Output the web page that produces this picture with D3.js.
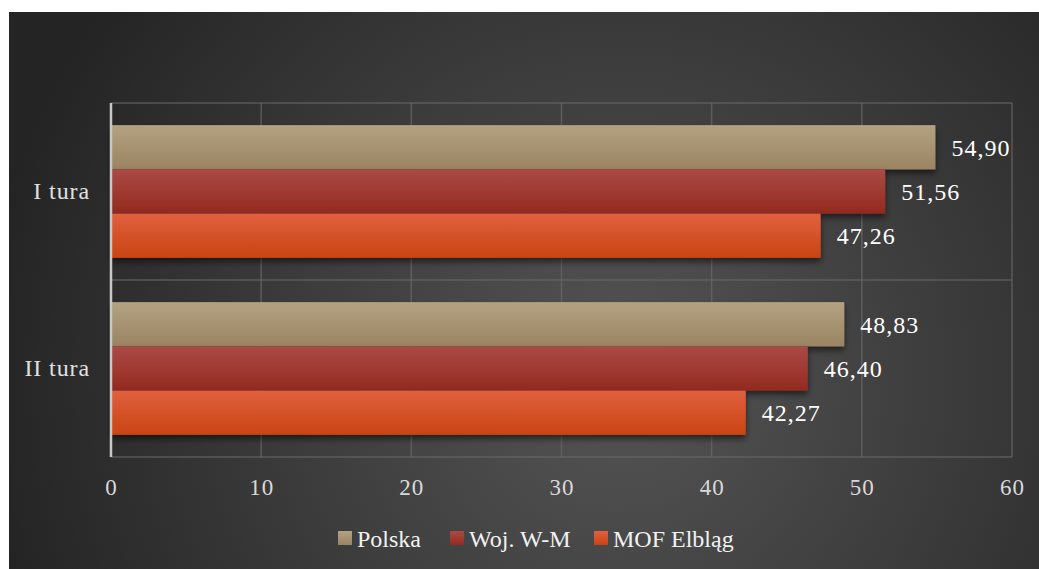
<!DOCTYPE html>
<html><head><meta charset="utf-8">
<script src="https://cdn.jsdelivr.net/npm/d3@7"></script>
<style>
html,body{margin:0;padding:0;background:#fff;}
svg{display:block;}
</style></head>
<body>
<svg id="chart" width="1039" height="569"></svg>
<script>
const categories = ["I tura", "II tura"];
const seriesNames = ["Polska", "Woj. W-M", "MOF Elbląg"];
const polska = [54.90, 48.83];
const wojWM = [51.56, 46.40];
const mofElblag = [47.26, 42.27];
const xTicks = [0, 10, 20, 30, 40, 50, 60];

const seriesValues = [polska, wojWM, mofElblag];
const colors = [["#b3a281","#9a8462"],["#ab4a45","#922a1f"],["#e1603f","#c94413"]];
const fontFam = "'Liberation Serif', serif";

const svg = d3.select("#chart");
const W = 1039, H = 569;
const defs = svg.append("defs");
const rg = defs.append("radialGradient").attr("id","bg")
  .attr("gradientUnits","userSpaceOnUse").attr("cx",620).attr("cy",380).attr("r",640);
rg.append("stop").attr("offset","0%").attr("stop-color","#555555");
rg.append("stop").attr("offset","100%").attr("stop-color","#242424");
colors.forEach((c,i)=>{
  const lg = defs.append("linearGradient").attr("id","g"+i).attr("x1",0).attr("y1",0).attr("x2",0).attr("y2",1);
  lg.append("stop").attr("offset","0%").attr("stop-color",c[0]);
  lg.append("stop").attr("offset","100%").attr("stop-color",c[1]);
});
const f = defs.append("filter").attr("id","sh").attr("x","-5%").attr("y","-20%").attr("width","110%").attr("height","150%");
f.append("feDropShadow").attr("dx",0).attr("dy",4).attr("stdDeviation",3).attr("flood-color","#000").attr("flood-opacity",0.55);

svg.append("rect").attr("x",9).attr("y",12).attr("width",W-9).attr("height",H-12).attr("fill","url(#bg)");

const plot = {left:111, right:1012, top:103, bottom:457};
const x = d3.scaleLinear().domain([0,60]).range([plot.left, plot.right]);
const y = d3.scaleBand().domain(categories).range([plot.top, plot.bottom]).paddingInner(0.25).paddingOuter(0.125);
const ySub = d3.scaleBand().domain(seriesNames).range([0, y.bandwidth()]);

// gridlines vertical
const g = svg.append("g");
g.selectAll("line.vg").data(xTicks.slice(1)).join("line")
  .attr("x1",d=>x(d)).attr("x2",d=>x(d)).attr("y1",plot.top).attr("y2",plot.bottom)
  .attr("stroke","#6a6a6a").attr("stroke-opacity",0.7).attr("stroke-width",1.5);
// horizontal gridlines at category boundaries
g.selectAll("line.hg").data(d3.range(categories.length+1)).join("line")
  .attr("x1",plot.left).attr("x2",plot.right)
  .attr("y1",i=>plot.top + i*(plot.bottom-plot.top)/categories.length)
  .attr("y2",i=>plot.top + i*(plot.bottom-plot.top)/categories.length)
  .attr("stroke","#6a6a6a").attr("stroke-opacity",0.7).attr("stroke-width",1.5);

// bars
const bars = svg.append("g");
categories.forEach((cat,ci)=>{
  seriesNames.forEach((s,si)=>{
    const v = seriesValues[si][ci];
    bars.append("rect")
      .attr("x",x(0)).attr("y",y(cat)+ySub(s))
      .attr("width",x(v)-x(0)).attr("height",ySub.bandwidth())
      .attr("fill","url(#g"+si+")").attr("filter","url(#sh)");
  });
});
categories.forEach((cat,ci)=>{
  seriesNames.forEach((s,si)=>{
    const v = seriesValues[si][ci];
    svg.append("text")
      .attr("x",x(v)+16).attr("y",y(cat)+ySub(s)+ySub.bandwidth()/2)
      .attr("dy","0.35em").attr("fill","#ffffff")
      .attr("font-family",fontFam).attr("font-size",24).attr("letter-spacing","1px")
      .text(v.toFixed(2).replace(".",","));
  });
});

// left axis line
svg.append("line").attr("x1",plot.left).attr("x2",plot.left).attr("y1",plot.top).attr("y2",plot.bottom)
  .attr("stroke","#c8c8c8").attr("stroke-width",2.5);

// x axis labels
const xAxis = d3.axisBottom(x).tickValues(xTicks).tickSize(0).tickPadding(0).tickFormat(d3.format("d"));
const xa = svg.append("g").attr("transform",`translate(0,${plot.bottom})`).call(xAxis);
xa.select(".domain").remove();
xa.selectAll("text").attr("font-family",fontFam).attr("font-size",23).attr("letter-spacing","1px")
  .attr("fill","#d9d9d9").attr("dy",null).attr("y",38);

// y axis labels
const yAxis = d3.axisLeft(y).tickSize(0).tickPadding(21);
const ya = svg.append("g").attr("transform",`translate(${plot.left},0)`).call(yAxis);
ya.select(".domain").remove();
ya.selectAll("text").attr("font-family",fontFam).attr("font-size",24).attr("letter-spacing","0.9px").attr("fill","#e0e0e0");

// legend
const legX = [338, 450, 594];
const leg = svg.append("g");
seriesNames.forEach((s,i)=>{
  leg.append("rect").attr("x",legX[i]).attr("y",531).attr("width",14).attr("height",14).attr("fill","url(#g"+i+")");
  leg.append("text").attr("x",legX[i]+19).attr("y",547).attr("fill","#f2f2f2")
    .attr("font-family",fontFam).attr("font-size",24).text(s);
});
</script>
</body></html>
